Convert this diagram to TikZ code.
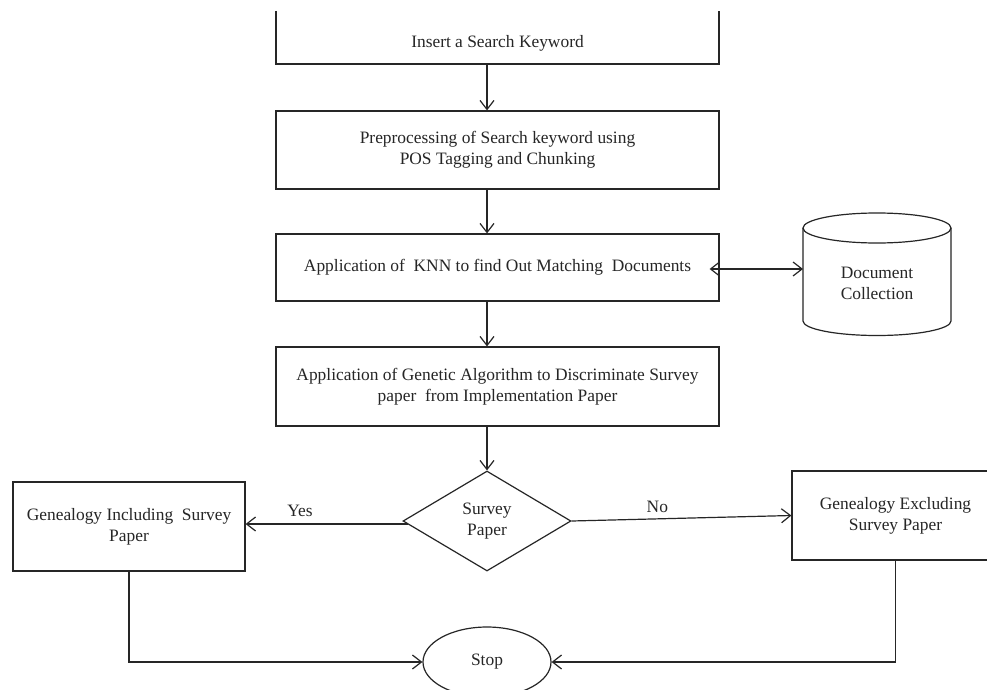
\documentclass[tikz,border=0pt]{standalone}
\usepackage{fontspec}
\setmainfont{Liberation Serif}
\usetikzlibrary{arrows.meta,shapes.geometric}
\begin{document}
\begin{tikzpicture}[x=1pt,y=-1pt,
  line width=1.2pt, draw=black!85,
  every node/.style={font=\fontsize{17.4}{21}\selectfont, text=black!85, align=center, inner sep=0pt},
  box/.style={draw, rectangle, minimum width=443pt},
  sidebox/.style={draw, rectangle, minimum height=89pt},
  arr/.style={-{Straight Barb[length=9pt,width=14pt]}},
  dbl/.style={{Straight Barb[length=9pt,width=14pt]}-{Straight Barb[length=9pt,width=14pt]}}]
\useasboundingbox (0,0) rectangle (987,690);
\clip (0,0) rectangle (987,690);
\fill[white] (0,0) rectangle (987,690);

% top box (top edge cut off)
\node (b1) at (497.5,43) {Insert a Search Keyword};
\coordinate (b1sw) at (276,64);
\coordinate (b1se) at (719,64);
\draw (276,11) -- (b1sw) -- (b1se) -- (719,11);

\node[box, minimum height=78pt] (b2) at (497.5,150) {Preprocessing of Search keyword using\\POS Tagging and Chunking};
\node[box, minimum height=67pt] (b3) at (497.5,267.5) {Application of \ KNN to find Out Matching \ Documents};
\node[box, minimum height=79pt] (b4) at (497.5,386.5) {Application of Genetic Algorithm to Discriminate Survey\\paper \ from Implementation Paper};

% document collection cylinder
\node (dc) at (877,283) {Document\\Collection};
\coordinate (cylw) at (803,269);
\draw (803,228) -- (803,321) arc[start angle=180, end angle=360, x radius=74pt, y radius=14.5pt] -- (951,228);
\draw (877,228) ellipse [x radius=74pt, y radius=15pt];

\node[draw, diamond, minimum width=168pt, minimum height=100pt] (d) at (487,521) {Survey\\Paper};
\node[sidebox, minimum width=232pt] (L) at (129,526.5) {Genealogy Including \ Survey\\Paper};
\node[sidebox, minimum width=207pt] (R) at (895.5,515.5) {Genealogy Excluding\\Survey Paper};
\node[draw, ellipse, minimum width=128pt, minimum height=70pt] (S) at (487,662) {Stop};

% connectors
\coordinate (dyes) at ([xshift=6pt,yshift=-3pt]d.west);
\draw[arr] (b1sw -| d.north) -- (b2.north -| d.north);
\draw[arr] (b2.south -| d.north) -- (b3.north -| d.north);
\draw[arr] (b3.south -| d.north) -- (b4.north -| d.north);
\draw[arr] (b4.south -| d.north) -- (d.north);
\draw[dbl] ([xshift=-10pt]b3.east |- cylw) -- (cylw);
\draw[arr] (dyes) -- node[above=7pt, xshift=-27pt] {Yes} (dyes -| L.east);
\draw[arr] (d.east) -- node[above=6pt, pos=0.39] {No} (R.west);
\draw[arr] (L.south) |- (S.west);
\draw[arr] (R.south) |- (S.east);
\end{tikzpicture}
\end{document}
